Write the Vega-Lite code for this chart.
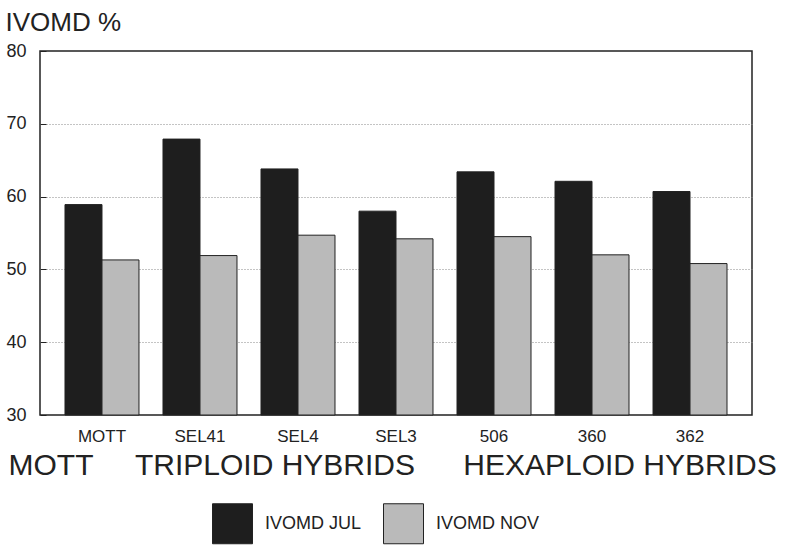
{
  "$schema": "https://vega.github.io/schema/vega-lite/v6.json",
  "autosize": "none",
  "width": 712,
  "height": 364,
  "padding": {"left": 40, "top": 51, "right": 33, "bottom": 130},
  "background": "white",
  "config": {
    "font": "Liberation Sans",
    "view": {"stroke": "#222", "strokeWidth": 1.5},
    "axis": {"labelColor": "#222", "domainColor": "#222", "tickColor": "#222"}
  },
  "datasets": {
    "bars": [
      {"cultivar": "MOTT", "season": "IVOMD JUL", "ivomd": 58.9},
      {"cultivar": "MOTT", "season": "IVOMD NOV", "ivomd": 51.3},
      {"cultivar": "SEL41", "season": "IVOMD JUL", "ivomd": 67.9},
      {"cultivar": "SEL41", "season": "IVOMD NOV", "ivomd": 51.9},
      {"cultivar": "SEL4", "season": "IVOMD JUL", "ivomd": 63.8},
      {"cultivar": "SEL4", "season": "IVOMD NOV", "ivomd": 54.7},
      {"cultivar": "SEL3", "season": "IVOMD JUL", "ivomd": 58.0},
      {"cultivar": "SEL3", "season": "IVOMD NOV", "ivomd": 54.2},
      {"cultivar": "506", "season": "IVOMD JUL", "ivomd": 63.4},
      {"cultivar": "506", "season": "IVOMD NOV", "ivomd": 54.5},
      {"cultivar": "360", "season": "IVOMD JUL", "ivomd": 62.1},
      {"cultivar": "360", "season": "IVOMD NOV", "ivomd": 52.0},
      {"cultivar": "362", "season": "IVOMD JUL", "ivomd": 60.7},
      {"cultivar": "362", "season": "IVOMD NOV", "ivomd": 50.8}
    ]
  },
  "layer": [
    {
      "data": {"name": "bars"},
      "mark": {"type": "bar", "stroke": "#222", "strokeWidth": 1},
      "encoding": {
        "x": {
          "field": "cultivar",
          "type": "nominal",
          "sort": ["MOTT", "SEL41", "SEL4", "SEL3", "506", "360", "362"],
          "scale": {"paddingInner": 0.245, "paddingOuter": 0.255},
          "axis": {
            "title": null,
            "labelAngle": 0,
            "ticks": false,
            "domain": false,
            "labelFontSize": 17,
            "labelPadding": 13
          }
        },
        "xOffset": {
          "field": "season",
          "type": "nominal",
          "scale": {"paddingInner": 0, "paddingOuter": 0}
        },
        "y": {
          "field": "ivomd",
          "type": "quantitative",
          "scale": {"domain": [30, 80], "nice": false, "zero": false},
          "axis": {
            "values": [30, 35, 40, 45, 50, 55, 60, 65, 70, 75, 80],
            "labelExpr": "datum.value % 10 == 0 ? datum.label : ''",
            "labelFontSize": 18,
            "labelPadding": 20,
            "ticks": true,
            "tickSize": -6,
            "tickWidth": 1,
            "domain": false,
            "grid": true,
            "gridColor": "#888",
            "gridDash": [1, 2],
            "gridWidth": 1,
            "gridOpacity": {"condition": {"test": "datum.value % 10 == 0 && datum.value > 30 && datum.value < 80", "value": 1}, "value": 0},
            "title": "IVOMD %",
            "titleAngle": 0,
            "titleAlign": "left",
            "titleBaseline": "alphabetic",
            "titleX": -35,
            "titleY": -21,
            "titleFontSize": 26,
            "titleFontWeight": "normal",
            "titleColor": "#222"
          }
        },
        "y2": {"datum": 30},
        "color": {
          "field": "season",
          "type": "nominal",
          "scale": {"domain": ["IVOMD JUL", "IVOMD NOV"], "range": ["#1e1e1e", "#bababa"]},
          "legend": {
            "title": null,
            "orient": "none",
            "direction": "horizontal",
            "legendX": 172,
            "legendY": 452,
            "symbolType": "square",
            "symbolSize": 1600,
            "symbolStrokeColor": "#222",
            "symbolStrokeWidth": 1,
            "labelFontSize": 18,
            "labelColor": "#222",
            "labelOffset": 12,
            "columnPadding": 19
          }
        }
      }
    },
    {
      "data": {"values": [{"label": "MOTT"}]},
      "mark": {"type": "text", "fontSize": 30, "align": "center", "baseline": "alphabetic", "dx": -51, "color": "#222"},
      "encoding": {
        "x": {"datum": "MOTT"},
        "y": {"datum": 21.8},
        "text": {"field": "label"}
      }
    },
    {
      "data": {"values": [{"label": "TRIPLOID HYBRIDS"}]},
      "mark": {"type": "text", "fontSize": 30, "align": "center", "baseline": "alphabetic", "dx": -23, "color": "#222"},
      "encoding": {
        "x": {"datum": "SEL4"},
        "y": {"datum": 21.8},
        "text": {"field": "label"}
      }
    },
    {
      "data": {"values": [{"label": "HEXAPLOID HYBRIDS"}]},
      "mark": {"type": "text", "fontSize": 30, "align": "center", "baseline": "alphabetic", "dx": 28, "color": "#222"},
      "encoding": {
        "x": {"datum": "360"},
        "y": {"datum": 21.8},
        "text": {"field": "label"}
      }
    }
  ]
}
